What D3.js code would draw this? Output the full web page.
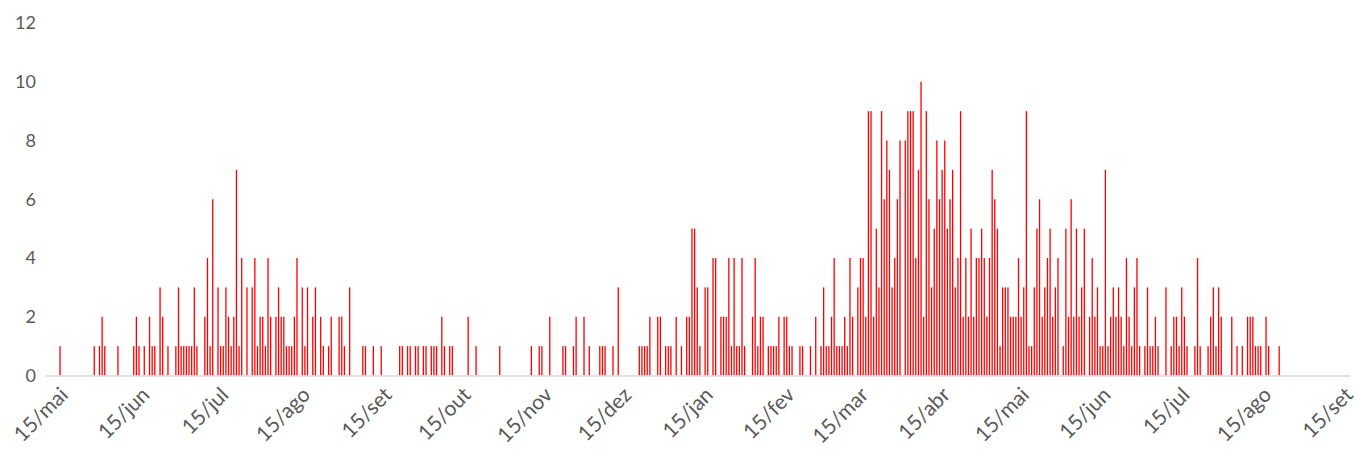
<!DOCTYPE html>
<html><head><meta charset="utf-8">
<script src="https://cdn.jsdelivr.net/npm/d3@7"></script>
<style>html,body{margin:0;padding:0;background:#fff;} svg{display:block;font-family:Lato,"Open Sans",sans-serif;}</style>
</head><body><svg id="c" width="1359" height="455"></svg>
<script>
// ---- data ----
const startDate = "2020-05-15";
const endDate = "2021-09-15";
const tickLabels = ["15/mai","15/jun","15/jul","15/ago","15/set","15/out","15/nov","15/dez","15/jan","15/fev","15/mar","15/abr","15/mai","15/jun","15/jul","15/ago","15/set"];
const yTicks = [0, 2, 4, 6, 8, 10, 12];
// day offset from startDate for each non-zero day
const dayOffsets = [0,13,15,16,17,22,28,29,30,32,34,35,36,
38,39,41,44,45,46,47,48,49,50,51,52,55,56,57,58,60,61,62,63,64,65,66,67,68,69,71,73,74,75,
76,77,78,79,80,82,83,84,85,86,87,88,89,90,92,93,94,96,97,99,100,102,103,106,107,108,110,
115,116,119,122,129,130,132,133,135,136,138,139,141,142,143,145,146,148,149,
155,158,167,179,182,183,186,191,192,
195,196,199,201,205,206,207,210,212,220,221,222,223,224,227,228,230,231,232,
234,236,238,239,240,241,242,243,245,246,248,249,251,252,253,254,255,256,257,258,259,260,263,264,265,266,267,269,270,271,
272,273,275,276,277,278,281,282,285,287,289,290,291,292,293,294,295,296,297,298,299,300,301,303,304,305,306,307,308,309,310,
311,312,313,314,315,316,317,318,319,321,322,323,324,325,326,327,328,329,330,331,332,333,334,335,336,337,338,339,340,341,342,343,344,345,346,347,348,349,
350,351,352,353,354,355,356,357,358,359,360,361,362,363,364,365,366,367,368,369,370,371,372,373,374,375,376,377,378,379,381,382,383,384,385,386,387,388,
389,391,392,393,394,395,396,397,398,399,400,401,402,403,404,405,406,407,408,409,410,412,413,414,415,416,417,420,422,423,424,425,426,427,
428,431,432,433,436,437,438,439,440,441,445,447,449,451,452,453,454,455,456,458,459,463];
const counts = [1,1,1,2,1,1,1,2,1,1,2,1,1,
3,2,1,1,3,1,1,1,1,1,3,1,2,4,1,6,3,1,1,3,2,1,2,7,1,4,3,3,4,1,
2,2,1,4,2,2,3,2,2,1,1,1,2,4,3,1,3,2,3,2,1,1,2,2,2,1,3,
1,1,1,1,1,1,1,1,1,1,1,1,1,1,1,2,1,1,1,
2,1,1,1,1,1,2,1,1,
1,2,2,1,1,1,1,1,3,1,1,1,1,2,2,2,1,1,1,
2,1,2,2,5,5,3,1,3,3,4,4,2,2,2,4,1,4,1,1,4,1,2,4,1,2,2,1,1,1,
1,2,2,2,1,1,1,1,1,2,1,3,1,1,2,4,1,1,1,2,1,4,2,3,4,4,2,9,9,2,5,
3,9,6,8,7,3,4,6,8,8,9,9,9,4,7,10,2,9,6,3,5,8,6,7,8,5,6,7,3,4,9,2,4,2,5,2,4,4,
5,4,2,4,7,6,5,1,3,3,3,2,2,2,4,2,3,9,1,1,3,5,6,2,3,4,5,2,3,4,1,5,2,6,2,5,2,3,
5,2,4,2,3,1,1,7,1,2,3,2,3,2,1,4,2,1,3,4,1,1,3,1,1,2,1,3,1,2,2,1,3,2,
1,1,4,1,1,2,3,1,3,2,2,1,1,2,2,2,1,1,1,2,1,1];

// ---- chart ----
const svg = d3.select("#c");
const t0 = new Date(startDate + "T00:00:00Z");
const t1 = new Date(endDate + "T00:00:00Z");
const x = d3.scaleUtc().domain([t0, t1]).range([60, 1345]);
const y = d3.scaleLinear().domain([0, 12]).range([375.5, 23]);

const data = dayOffsets.map((d, i) => ({date: d3.utcDay.offset(t0, d), v: counts[i]}));

svg.append("rect").attr("width", 1359).attr("height", 455).attr("fill", "#fff");

// bars
svg.append("g").selectAll("rect").data(data).join("rect")
  .attr("x", d => x(d.date) - 0.65)
  .attr("width", 1.3)
  .attr("y", d => y(d.v))
  .attr("height", d => y(0) - y(d.v))
  .attr("fill", "#ff0000");

// x axis line
svg.append("line").attr("x1", 45).attr("x2", 1350)
  .attr("y1", y(0) + 0.5).attr("y2", y(0) + 0.5)
  .attr("stroke", "#d9d9d9").attr("stroke-width", 1.5);

// y labels via axis
const yAxis = d3.axisLeft(y).tickValues(yTicks).tickSize(0).tickPadding(0);
const gy = svg.append("g").attr("transform", "translate(36,0)").call(yAxis);
gy.select(".domain").remove();
gy.selectAll("text").attr("fill", "#595959").style("font-size", "18px").style("font-family", "Lato, 'Open Sans', sans-serif");

// x labels
const tickDates = tickLabels.map((_, i) => d3.utcMonth.offset(t0, i));
svg.append("g").selectAll("text").data(tickDates).join("text")
  .attr("transform", d => `translate(${x(d) + 4},${391}) rotate(-45)`)
  .attr("text-anchor", "end")
  .attr("dy", "0.35em")
  .attr("fill", "#595959")
  .style("font-size", "21px")
  .text((d, i) => tickLabels[i]);
</script>
</body></html>
